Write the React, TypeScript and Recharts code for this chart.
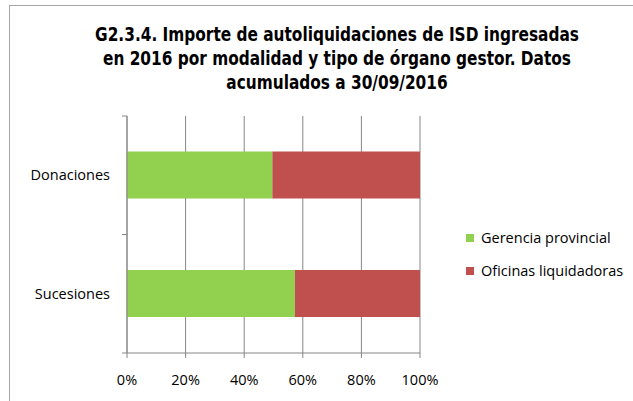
import React from 'react';
import { BarChart, Bar, XAxis, YAxis, CartesianGrid, Legend } from 'recharts';

const categories = ['Donaciones', 'Sucesiones'];
const gerenciaProvincial = [49.6, 57.3];
const oficinasLiquidadoras = [50.4, 42.7];
const xTicks = [0, 20, 40, 60, 80, 100];
const titleLines = [
  'G2.3.4. Importe de autoliquidaciones de ISD ingresadas',
  'en 2016 por modalidad y tipo de órgano gestor. Datos',
  'acumulados a 30/09/2016',
];

const data = categories.map((name, i) => ({
  name,
  gerencia: gerenciaProvincial[i],
  oficinas: oficinasLiquidadoras[i],
}));

const FONT = '"Open Sans", "Noto Sans", sans-serif';
const AXIS = '#868686';

const YTick = (props: any) => {
  const { x, y, payload } = props;
  const half = payload && typeof payload.offset === 'number' && payload.offset > 0 ? payload.offset : 59;
  return (
    <g>
      <text x={x} y={y} dy="0.35em" textAnchor="end" fontFamily={FONT} fontSize={14.5} fill="#000">
        {payload.value}
      </text>
      <line x1={x + 12} x2={x + 17} y1={y - half} y2={y - half} stroke={AXIS} strokeWidth={1} />
      <line x1={x + 12} x2={x + 17} y1={y + half} y2={y + half} stroke={AXIS} strokeWidth={1} />
    </g>
  );
};

const LegendContent = (props: any) => {
  const { payload } = props;
  return (
    <div style={{ fontFamily: FONT, fontSize: 14.5, color: '#000' }}>
      {(payload || []).map((p: any) => (
        <div key={p.value} style={{ display: 'flex', alignItems: 'center', height: 33, whiteSpace: 'nowrap' }}>
          <span style={{ display: 'inline-block', width: 8, height: 8, background: p.color, marginRight: 7 }} />
          <span>{p.value}</span>
        </div>
      ))}
    </div>
  );
};

export default function App() {
  return (
    <div style={{ position: 'absolute', left: 0, top: 0, width: 633, height: 401, overflow: 'hidden', background: '#fff' }}>
      <div
        style={{
          position: 'absolute',
          left: 9,
          top: 5,
          width: 800,
          height: 600,
          borderTop: '1px solid #a6a6a6',
          borderLeft: '1px solid #a6a6a6',
        }}
      />
      <div
        style={{
          position: 'absolute',
          left: 37,
          top: 23,
          width: 600,
          textAlign: 'center',
          fontFamily: '"Liberation Sans Narrow", "DejaVu Sans Condensed", sans-serif',
          fontWeight: 'bold',
          fontSize: 19.5,
          lineHeight: '24px',
          whiteSpace: 'nowrap',
          color: '#000',
          transform: 'scaleX(0.875)',
          transformOrigin: '300px 0',
        }}
      >
        {titleLines.map((l) => (
          <div key={l}>{l}</div>
        ))}
      </div>
      <div style={{ position: 'absolute', left: 0, top: 0 }}>
        <BarChart
          width={633}
          height={401}
          data={data}
          layout="vertical"
          margin={{ top: 116, right: 213, bottom: 18, left: 27 }}
          barCategoryGap="30%"
        >
          <CartesianGrid horizontal={false} vertical={true} stroke={AXIS} strokeWidth={1} />
          <XAxis
            type="number"
            domain={[0, 100]}
            ticks={xTicks}
            tickFormatter={(v: number) => `${v}%`}
            axisLine={{ stroke: AXIS }}
            tickLine={{ stroke: AXIS }}
            tickSize={5}
            tickMargin={17}
            height={30}
            tick={{ fontFamily: FONT, fontSize: 14.5, fill: '#000' }}
            interval={0}
          />
          <YAxis
            type="category"
            dataKey="name"
            width={100}
            axisLine={{ stroke: AXIS }}
            tickLine={false}
            tickSize={5}
            tickMargin={12}
            tick={<YTick />}
            interval={0}
          />
          <Legend
            layout="horizontal"
            verticalAlign="middle"
            align="center"
            content={<LegendContent />}
            wrapperStyle={{ left: 466, top: 221, width: 170, right: 'auto', bottom: 'auto' }}
          />
          <Bar dataKey="gerencia" name="Gerencia provincial" stackId="a" fill="#92D050" isAnimationActive={false} />
          <Bar dataKey="oficinas" name="Oficinas liquidadoras" stackId="a" fill="#C0504D" isAnimationActive={false} />
        </BarChart>
      </div>
    </div>
  );
}
